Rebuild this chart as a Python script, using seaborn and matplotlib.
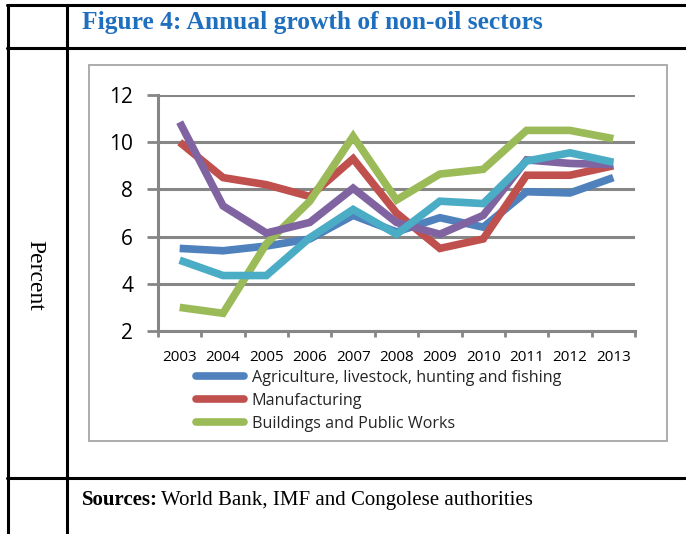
import pandas as pd
import matplotlib.pyplot as plt
import seaborn as sns
from matplotlib.lines import Line2D
from matplotlib.patches import Rectangle

sns.set_theme(style="white")
plt.rcParams['font.family'] = ['Open Sans', 'DejaVu Sans']

# Data (percent)
years = ['2003', '2004', '2005', '2006', '2007', '2008',
         '2009', '2010', '2011', '2012', '2013']
agriculture = [5.5, 5.4, 5.6, 5.9, 6.9, 6.2, 6.8, 6.4, 7.9, 7.85, 8.5]
manufacturing = [10.0, 8.5, 8.2, 7.7, 9.3, 7.0, 5.5, 5.9, 8.6, 8.6, 9.0]
buildings = [3.0, 2.75, 5.7, 7.5, 10.25, 7.55, 8.65, 8.85, 10.5, 10.5, 10.15]
other_a = [10.85, 7.3, 6.15, 6.6, 8.05, 6.6, 6.1, 6.9, 9.25, 9.1, 9.05]
other_b = [5.0, 4.35, 4.35, 5.95, 7.15, 6.1, 7.5, 7.4, 9.2, 9.55, 9.15]

series_names = ['Agriculture, livestock, hunting and fishing',
                'Manufacturing',
                'Buildings and Public Works',
                'Transport and Telecommunications',
                'Trade, restaurants and hotels']
series_values = [agriculture, manufacturing, buildings, other_a, other_b]
colors = ['#4F81BD', '#C0504D', '#9BBB59', '#8064A2', '#4BACC6']

df = pd.DataFrame({'year': years})
for name, vals in zip(series_names, series_values):
    df[name] = vals
long_df = df.melt(id_vars='year', var_name='sector', value_name='value')
long_df['x'] = long_df['year'].map({y: i for i, y in enumerate(years)})

W, H = 686, 534
fig = plt.figure(figsize=(W / 100, H / 100), dpi=100)
fig.patch.set_facecolor('white')


def fx(px):
    return px / W


def fy(py):
    return 1 - py / H


# Document table lines
lw_tab = 2.2
for x in (8, 67):
    fig.add_artist(Line2D([fx(x), fx(x)], [0, fy(5)], color='black', lw=lw_tab))
for y in (5, 48, 478):
    fig.add_artist(Line2D([fx(7), 1], [fy(y), fy(y)], color='black', lw=lw_tab))

fig.text(fx(82), fy(22), 'Figure 4: Annual growth of non-oil sectors',
         family='Liberation Serif', weight='bold', fontsize=18.4,
         color='#1F6FBF', va='center', ha='left')
fig.text(fx(35), fy(275), 'Percent', family='Liberation Serif', fontsize=17,
         rotation=270, ha='center', va='center', color='black')
fig.text(fx(82), fy(500), 'Sources:', family='Liberation Serif',
         weight='bold', fontsize=15, va='center', ha='left', color='black')
fig.text(fx(161), fy(500), 'World Bank, IMF and Congolese authorities',
         family='Liberation Serif', fontsize=15, va='center', ha='left',
         color='black')

# Chart frame
fig.add_artist(Rectangle((fx(89), fy(441)), fx(667) - fx(89), fy(65) - fy(441),
                         fill=False, edgecolor='#A6A6A6', lw=1.3))

ax = fig.add_axes([fx(158), fy(331), fx(635) - fx(158), fy(95) - fy(331)])
sns.lineplot(data=long_df, x='x', y='value', hue='sector',
             hue_order=series_names, palette=colors, lw=5.5, ax=ax,
             legend=False, sort=False)
for line in ax.lines:
    line.set_solid_joinstyle('miter')
    line.set_solid_capstyle('butt')

grid_c = '#868686'
ax.set_xlim(-0.5, len(years) - 0.5)
ax.set_ylim(2, 12)
ax.set_yticks(range(2, 13, 2))
ax.set_xticks(range(len(years)))
ax.set_xticklabels(years)
ax.set_xticks([i - 0.5 for i in range(len(years) + 1)], minor=True)
ax.yaxis.grid(True, color=grid_c, lw=2.2)
ax.set_axisbelow(True)
ax.tick_params(axis='x', which='major', length=0, pad=14, labelsize=11,
               labelcolor='black')
ax.tick_params(axis='x', which='minor', length=4, width=2, color=grid_c,
               direction='out', bottom=True)
ax.tick_params(axis='y', length=8, width=2, color=grid_c, direction='out',
               left=True, pad=10, labelsize=15, labelcolor='black')
for side in ('top', 'right'):
    ax.spines[side].set_visible(False)
for side in ('left', 'bottom'):
    ax.spines[side].set_color(grid_c)
    ax.spines[side].set_linewidth(2.2)
ax.set_xlabel('')
ax.set_ylabel('')

# Legend (only the first three entries are visible in the original)
handles = [Line2D([], [], color=c, lw=5.5, solid_capstyle='round')
           for c in colors[:3]]
ax.legend(handles, series_names[:3], loc='upper left',
          bbox_to_anchor=(fx(196), fy(370)), bbox_transform=fig.transFigure,
          frameon=False, fontsize=11.6, handlelength=3.0, handletextpad=0.45,
          labelspacing=0.42, borderaxespad=0, borderpad=0)

fig.savefig('out.png', dpi=100, facecolor='white')
